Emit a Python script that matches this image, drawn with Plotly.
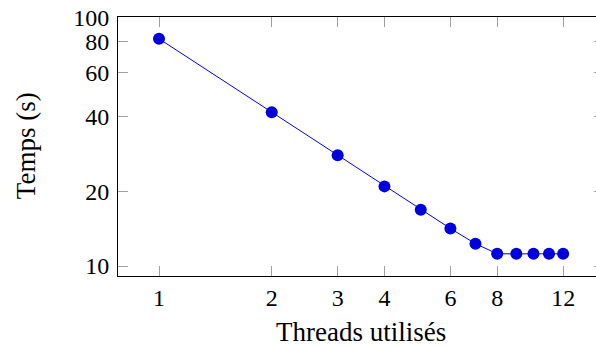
import plotly.graph_objects as go

threads = [1, 2, 3, 4, 5, 6, 7, 8, 9, 10, 11, 12]
temps = [81.9, 41.5, 27.9, 20.9, 16.85, 14.15, 12.3, 11.2, 11.2, 11.2, 11.2, 11.2]
x_ticks = [1, 2, 3, 4, 6, 8, 12]
y_ticks = [10, 20, 40, 60, 80, 100]

FONT = "Liberation Serif"
W, H = 604, 347
L, T, R = 118, 17, 0
B = H - 275.7
pw, ph = W - L - R, H - T - B


def px_to_paper(x, y):
    return (x - L) / pw, (H - B - y) / ph


fig = go.Figure()
fig.add_trace(go.Scatter(
    x=threads, y=temps, mode="lines+markers",
    line=dict(color="#0000FF", width=1),
    marker=dict(color="#0000DD", size=12, line=dict(width=0)),
    showlegend=False,
))

xt = px_to_paper(361, 332)
yt = px_to_paper(26, 146)

fig.update_layout(
    width=W, height=H,
    margin=dict(l=L, r=R, t=T, b=B, pad=0),
    plot_bgcolor="white", paper_bgcolor="white",
    font=dict(family=FONT, size=24, color="black"),
    xaxis=dict(
        type="log", range=[-0.1095, 1.1883],
        tickvals=x_ticks, ticktext=[str(v) for v in x_ticks],
        ticks="inside", ticklen=10, tickcolor="#a0a0a0", tickwidth=1,
        showline=True, linecolor="black", linewidth=1, mirror="allticks",
        showgrid=False, zeroline=False, ticklabelstandoff=0,
    ),
    yaxis=dict(
        type="log", range=[0.96, 2.0008],
        tickvals=y_ticks, ticktext=[str(v) for v in y_ticks],
        ticks="inside", ticklen=10, tickcolor="#a0a0a0", tickwidth=1,
        showline=True, linecolor="black", linewidth=1, mirror="allticks",
        showgrid=False, zeroline=False, ticklabelstandoff=3,
    ),
    annotations=[
        dict(text="Threads utilisés", x=xt[0], y=xt[1], xref="paper", yref="paper",
             xanchor="center", yanchor="middle", showarrow=False, font=dict(size=27)),
        dict(text="Temps (s)", x=yt[0], y=yt[1], xref="paper", yref="paper",
             xanchor="center", yanchor="middle", showarrow=False, textangle=-90,
             font=dict(size=27)),
    ],
)

fig.write_html(
    "out.html",
    config={"displayModeBar": False},
    post_script="document.body.style.margin='0';document.body.style.overflow='hidden';",
)
